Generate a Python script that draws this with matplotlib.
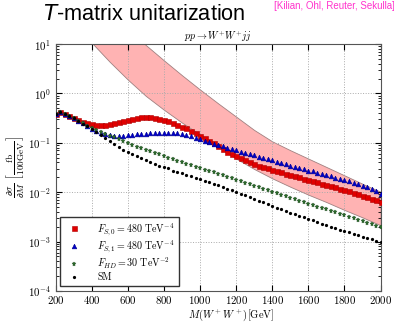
import matplotlib
matplotlib.use("Agg")
import matplotlib.pyplot as plt

plt.rcParams['mathtext.fontset'] = 'cm'
plt.rcParams['font.family'] = 'serif'
plt.rcParams['font.serif'] = ['cmr10', 'DejaVu Serif']
plt.rcParams['axes.formatter.use_mathtext'] = True

# invariant mass bins, 25 GeV apart
mass = list(range(200, 2001, 25))

# dsigma/dM in fb / 100 GeV
f_s0 = [0.380, 0.427, 0.389, 0.355, 0.324, 0.295, 0.269, 0.251, 0.240, 0.229,
        0.229, 0.234, 0.240, 0.251, 0.263, 0.275, 0.295, 0.309, 0.324, 0.331,
        0.339, 0.331, 0.324, 0.309, 0.295, 0.275, 0.251, 0.234, 0.214, 0.195,
        0.174, 0.155, 0.138, 0.123, 0.110, 0.0977, 0.0871, 0.0759, 0.0661, 0.0589,
        0.0537, 0.0490, 0.0447, 0.0407, 0.0372, 0.0347, 0.0324, 0.0302, 0.0282, 0.0263,
        0.0251, 0.0234, 0.0224, 0.0209, 0.0200, 0.0186, 0.0178, 0.0166, 0.0158, 0.0148,
        0.0141, 0.0132, 0.0126, 0.0117, 0.0112, 0.0105, 0.00977, 0.00912, 0.00851, 0.00794,
        0.00741, 0.00692, 0.00631]

f_s1 = [0.380, 0.427, 0.389, 0.355, 0.316, 0.282, 0.251, 0.219, 0.191, 0.174,
        0.158, 0.148, 0.141, 0.138, 0.138, 0.138, 0.141, 0.145, 0.148, 0.151,
        0.151, 0.155, 0.155, 0.158, 0.158, 0.158, 0.158, 0.155, 0.151, 0.145,
        0.135, 0.126, 0.117, 0.110, 0.102, 0.0955, 0.0891, 0.0851, 0.0794, 0.0759,
        0.0708, 0.0661, 0.0631, 0.0589, 0.0562, 0.0525, 0.0501, 0.0468, 0.0447, 0.0417,
        0.0389, 0.0372, 0.0347, 0.0331, 0.0309, 0.0295, 0.0275, 0.0263, 0.0245, 0.0234,
        0.0219, 0.0209, 0.0195, 0.0186, 0.0174, 0.0166, 0.0155, 0.0145, 0.0135, 0.0126,
        0.0115, 0.0105, 0.00933]

f_hd = [0.380, 0.427, 0.389, 0.355, 0.316, 0.282, 0.251, 0.224, 0.200, 0.178,
        0.162, 0.148, 0.138, 0.129, 0.117, 0.107, 0.0977, 0.0891, 0.0832, 0.0776,
        0.0724, 0.0676, 0.0631, 0.0589, 0.0550, 0.0501, 0.0468, 0.0437, 0.0407, 0.0380,
        0.0355, 0.0331, 0.0309, 0.0288, 0.0269, 0.0251, 0.0234, 0.0219, 0.0204, 0.0191,
        0.0178, 0.0166, 0.0155, 0.0145, 0.0135, 0.0126, 0.0117, 0.0110, 0.0102, 0.00955,
        0.00891, 0.00832, 0.00776, 0.00724, 0.00676, 0.00631, 0.00589, 0.00550, 0.00513, 0.00479,
        0.00447, 0.00417, 0.00389, 0.00363, 0.00339, 0.00316, 0.00295, 0.00275, 0.00257, 0.00240,
        0.00224, 0.00209, 0.00195]

sm = [0.380, 0.427, 0.389, 0.355, 0.316, 0.282, 0.245, 0.219, 0.191, 0.162,
      0.141, 0.123, 0.107, 0.0933, 0.0813, 0.0724, 0.0661, 0.0603, 0.0550, 0.0501,
      0.0457, 0.0417, 0.0380, 0.0347, 0.0324, 0.0302, 0.0275, 0.0257, 0.0240, 0.0224,
      0.0209, 0.0195, 0.0182, 0.0170, 0.0158, 0.0148, 0.0138, 0.0129, 0.0117, 0.0110,
      0.0102, 0.00933, 0.00871, 0.00794, 0.00724, 0.00676, 0.00631, 0.00575, 0.00525, 0.00479,
      0.00447, 0.00417, 0.00380, 0.00355, 0.00331, 0.00309, 0.00288, 0.00269, 0.00245, 0.00229,
      0.00214, 0.00200, 0.00186, 0.00174, 0.00166, 0.00155, 0.00145, 0.00135, 0.00126, 0.00120,
      0.00112, 0.00105, 0.00100]

# unitarity band
band_mass = [400, 500, 600, 700, 800, 900, 1000, 1100, 1200,
             1300, 1400, 1500, 1600, 1700, 1800, 1900, 2000]
band_low = [10.7, 4.37, 1.91, 0.891, 0.468, 0.257, 0.148, 0.0851, 0.0479,
            0.0295, 0.0191, 0.0129, 0.00891, 0.00631, 0.00437, 0.00309, 0.00214]
band_high = [100.0, 44.7, 20.0, 9.55, 4.68, 2.34, 1.20, 0.631, 0.339,
             0.182, 0.107, 0.0708, 0.0479, 0.0324, 0.0219, 0.0148, 0.0102]

fig = plt.figure(figsize=(3.94, 3.24), dpi=100)
ax = fig.add_axes([0.141, 0.102, 0.825, 0.762])

ax.fill_between(band_mass, band_low, band_high, facecolor='#ffb3b3',
                edgecolor='#a08080', linewidth=0.6, zorder=1)

ax.plot(mass, f_s0, 's', color='#e00000', markersize=3.6, markeredgecolor='#b00000',
        markeredgewidth=0.4, label=r'$F_{S,0}=480\ \mathrm{TeV}^{-4}$', zorder=3)
ax.plot(mass, f_s1, '^', color='#0000c8', markersize=3.4, markeredgecolor='#000090',
        markeredgewidth=0.4, label=r'$F_{S,1}=480\ \mathrm{TeV}^{-4}$', zorder=4)
ax.plot(mass, f_hd, '*', color='#2d6b2d', markersize=3.6, markeredgecolor='#1d4d1d',
        markeredgewidth=0.3, label=r'$F_{HD}=30\ \mathrm{TeV}^{-2}$', zorder=4)
ax.plot(mass, sm, '.', color='black', markersize=2.6, label='SM', zorder=5)

ax.set_yscale('log')
ax.set_xlim(200, 2000)
ax.set_ylim(1e-4, 1e1)
ax.set_xticks(range(200, 2001, 200))
ax.grid(True, which='major', linestyle=':', color='#aaaaaa', linewidth=0.7)
ax.tick_params(which='both', direction='in', top=True, right=True, labelsize=7.8)
ax.tick_params(which='major', length=4)
ax.tick_params(which='minor', length=2)
ax.tick_params(axis='x', pad=2.5)
for s in ax.spines.values():
    s.set_color('#555555')

ax.set_xlabel(r'$M(W^+W^+)[\mathrm{GeV}]$', fontsize=7.6)
ax.xaxis.set_label_coords(0.54, -0.066)
ax.set_ylabel(r'$\frac{\partial\sigma}{\partial M}\ \left[\frac{\mathrm{fb}}{100\mathrm{GeV}}\right]$',
              fontsize=9.5, labelpad=1)
ax.set_title(r'$pp \rightarrow W^{+}W^{+}jj$', fontsize=7.2, pad=1)

leg = ax.legend(loc='lower left', numpoints=1, fontsize=7.2, fancybox=False,
                edgecolor='#333333', framealpha=1, borderaxespad=0.45,
                handletextpad=1.3, labelspacing=0.18)
leg.get_frame().set_linewidth(1.0)

fig.text(0.109, 0.955, r'$T$-matrix unitarization', fontsize=15.6,
         family='Liberation Sans', va='center', math_fontfamily='dejavusans')
fig.text(0.695, 0.998, '[Kilian, Ohl, Reuter, Sekulla]', fontsize=7,
         family='Liberation Sans', color='#ff33cc', va='top')

fig.savefig('out.png', dpi=100)
